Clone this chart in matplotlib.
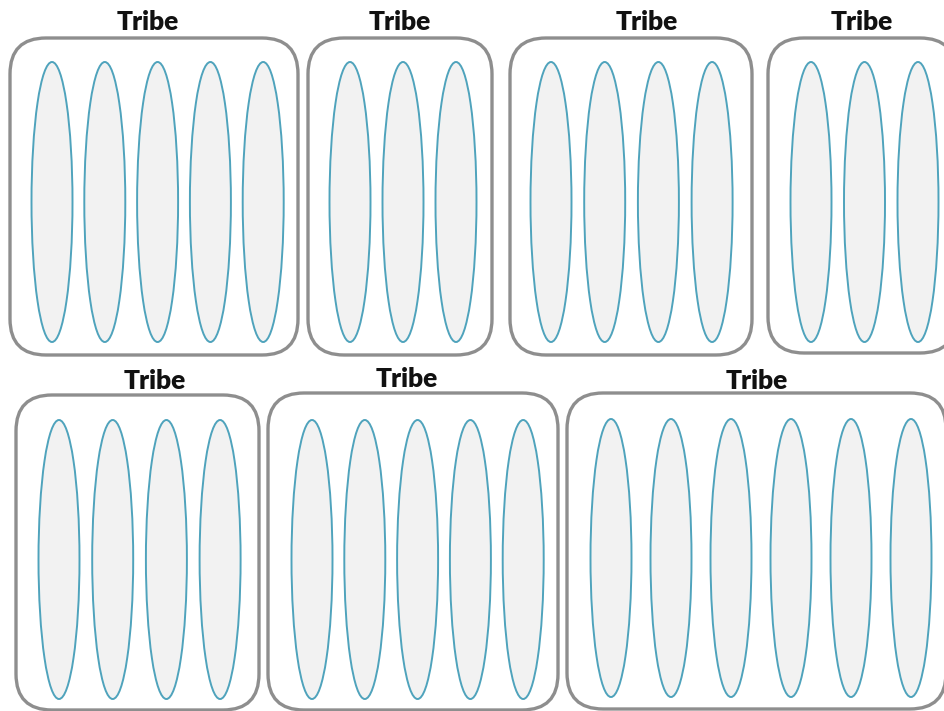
import matplotlib
matplotlib.use("Agg")
import matplotlib.pyplot as plt
from matplotlib.patches import FancyBboxPatch, Ellipse


# one entry per tribe: title and number of clans (ellipses) inside
tribe_titles = ["Tribe", "Tribe", "Tribe", "Tribe", "Tribe", "Tribe", "Tribe"]
clan_counts = [5, 3, 4, 3, 4, 5, 6]

# layout in pixels (x0, x1, y0, y1 of each tribe box)
box_x0 = [10, 308, 510, 768, 16, 268, 567]
box_x1 = [298, 492, 752, 956, 259, 558, 946]
box_y0 = [38, 38, 38, 38, 395, 393, 393]
box_y1 = [355, 355, 355, 353, 710, 710, 709]
first_clan_x = [52, 350, 551, 811, 59, 312, 611]
clan_step = [52.8, 53.0, 53.7, 53.5, 53.7, 52.8, 60.0]
clan_y0 = [62, 62, 62, 62, 420, 420, 419]
clan_y1 = [342, 342, 342, 342, 699, 699, 697]
title_x = [148, 400, 647, 862, 155, 407, 757]
title_y = [22, 22, 22, 22, 381, 379, 381]

BOX_EDGE = "#8e8e8e"
CLAN_EDGE = "#4fa3bc"
CLAN_FILL = "#f2f2f2"
CLAN_WIDTH = 41


def main():
    fig = plt.figure(figsize=(9.44, 7.11), dpi=100)
    ax = fig.add_axes([0, 0, 1, 1])
    ax.set_xlim(0, 944)
    ax.set_ylim(711, 0)
    ax.axis("off")

    for i, title in enumerate(tribe_titles):
        w = box_x1[i] - box_x0[i]
        h = box_y1[i] - box_y0[i]
        box = FancyBboxPatch(
            (box_x0[i], box_y0[i]), w, h,
            boxstyle="round,pad=0,rounding_size=36",
            facecolor="white", edgecolor=BOX_EDGE, linewidth=2.4,
        )
        ax.add_patch(box)

        cy = (clan_y0[i] + clan_y1[i]) / 2
        ch = clan_y1[i] - clan_y0[i]
        for k in range(clan_counts[i]):
            cx = first_clan_x[i] + k * clan_step[i]
            ax.add_patch(Ellipse(
                (cx, cy), CLAN_WIDTH, ch,
                facecolor=CLAN_FILL, edgecolor=CLAN_EDGE, linewidth=1.4,
            ))

        ax.text(title_x[i], title_y[i], title, ha="center", va="center",
                fontsize=19, fontweight="heavy", family=["Lato", "DejaVu Sans"],
                color="#111111")

    fig.savefig("out.png", dpi=100)
    plt.close(fig)


if __name__ == "__main__":
    main()
